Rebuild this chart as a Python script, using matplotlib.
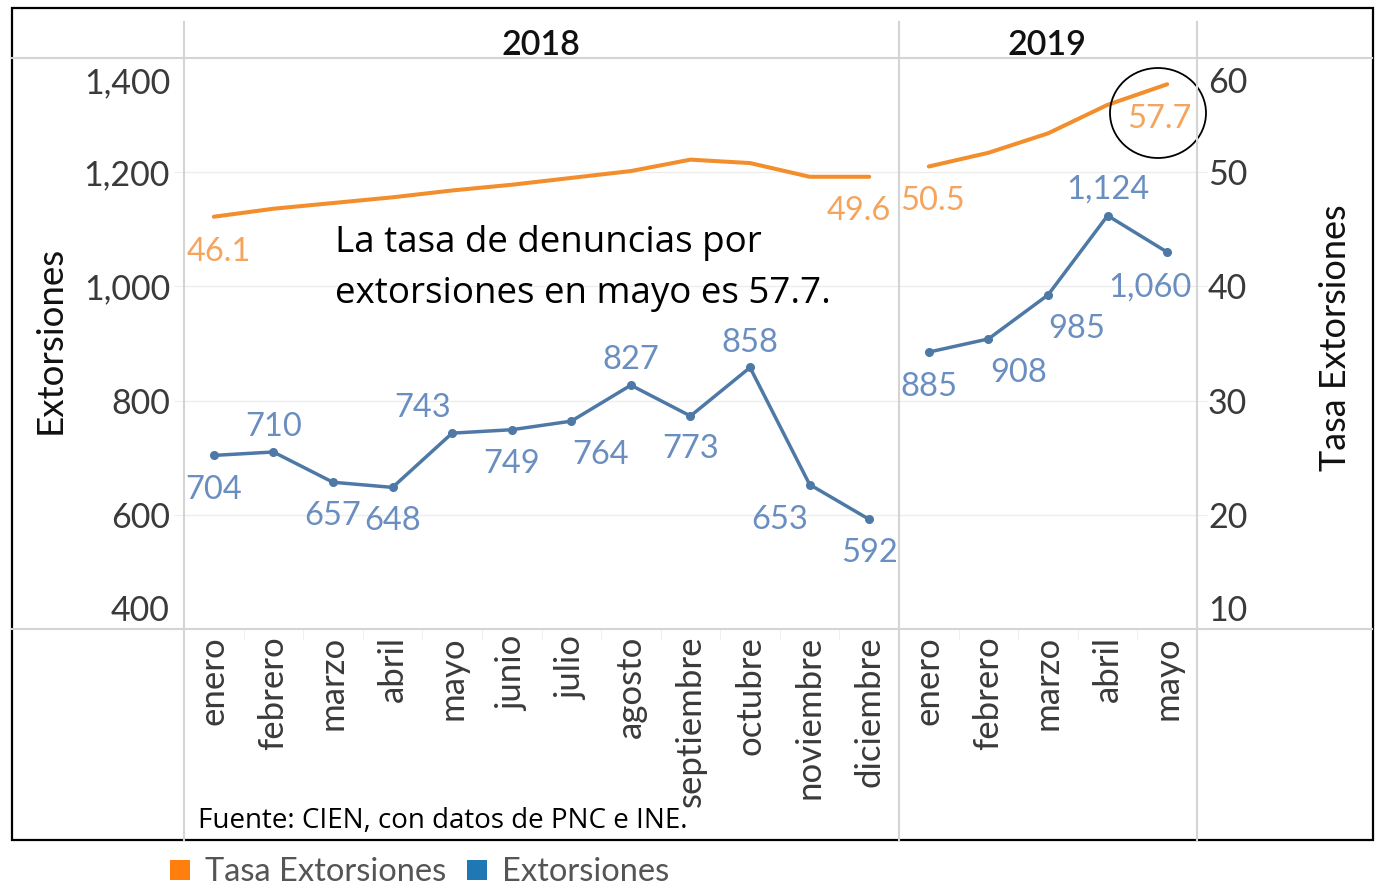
import matplotlib.pyplot as plt
import numpy as np
from matplotlib.patches import Rectangle, Ellipse
from matplotlib.lines import Line2D
from matplotlib.transforms import blended_transform_factory

plt.rcParams['font.family'] = ['Lato', 'DejaVu Sans']

# monthly extortion reports and rate per year
meses_2018 = ['enero', 'febrero', 'marzo', 'abril', 'mayo', 'junio', 'julio',
              'agosto', 'septiembre', 'octubre', 'noviembre', 'diciembre']
meses_2019 = ['enero', 'febrero', 'marzo', 'abril', 'mayo']

extorsiones_2018 = [704, 710, 657, 648, 743, 749, 764, 827, 773, 858, 653, 592]
extorsiones_2019 = [885, 908, 985, 1124, 1060]

tasa_2018 = [46.1, 46.8, 47.3, 47.8, 48.4, 48.9, 49.5, 50.1, 51.1, 50.8, 49.6, 49.6]
tasa_2019 = [50.5, 51.7, 53.4, 55.9, 57.7]

ext_ticks = [400, 600, 800, 1000, 1200, 1400]
tasa_ticks = [10, 20, 30, 40, 50, 60]

# label offsets in pixels (dx, dy) for the count labels
off_2018 = [(0, -35), (0, 25), (0, -34), (0, -34), (-30, 25), (0, -34),
            (29, -34), (0, 25), (0, -33), (0, 24), (-30, -35), (0, -34)]
off_2019 = [(0, -35), (30, -34), (29, -34), (0, 26), (-17, -35)]
# rate labels only on first and last month of each year
tasa_off_2018 = {0: (5, -35), 11: (-10, -34)}
tasa_off_2019 = {0: (4, -35), 4: (-8, -35)}

BLUE = '#4e79a7'
BLUE_LBL = '#6a8ec0'
ORANGE = '#f28e2b'
ORANGE_LBL = '#f5a45e'
GRID = '#ededed'
FRAME = '#d4d4d4'
TXT = '#3a3a3a'
LBL_SIZE = 23.5

W, H = 1377, 885


def fx(x):
    return x / W


def fy(y):
    return 1 - y / H


fig = plt.figure(figsize=(W / 100, H / 100), dpi=100)

ax_a = fig.add_axes([fx(184), fy(629), (899 - 184) / W, (629 - 58) / H])
ax_b = fig.add_axes([fx(899), fy(629), (1197 - 899) / W, (629 - 58) / H])

panes = [
    (ax_a, meses_2018, extorsiones_2018, tasa_2018, off_2018, tasa_off_2018),
    (ax_b, meses_2019, extorsiones_2019, tasa_2019, off_2019, tasa_off_2019),
]

twins = []
for ax, meses, ext, tasa, offs, toffs in panes:
    n = len(meses)
    x = np.arange(n)
    ax.set_xlim(-0.5, n - 0.5)
    ax.set_ylim(400, 1400)
    axt = ax.twinx()
    axt.set_ylim(10, 60)
    twins.append(axt)

    for v in ext_ticks[1:-1]:
        ax.axhline(v, color=GRID, lw=1, zorder=0)

    ax.plot(x, ext, color=BLUE, lw=2.5, marker='o', ms=5.5, zorder=3)
    axt.plot(x, tasa, color=ORANGE, lw=2.9, solid_capstyle='round', zorder=3)

    for i, v in enumerate(ext):
        dx, dy = offs[i]
        ax.annotate(f'{v:,}', xy=(i, v), xytext=(dx, dy), textcoords='offset pixels',
                    ha='center', va='center', fontsize=LBL_SIZE, color=BLUE_LBL)
    for i, (dx, dy) in toffs.items():
        axt.annotate(f'{tasa[i]:.1f}', xy=(i, tasa[i]), xytext=(dx, dy),
                     textcoords='offset pixels', ha='center', va='center',
                     fontsize=LBL_SIZE, color=ORANGE_LBL)

    for a in (ax, axt):
        for s in a.spines.values():
            s.set_visible(False)

    ax.set_xticks(x)
    ax.set_xticklabels(meses, rotation=90, fontsize=25, color=TXT)
    ax.set_xticks(np.arange(0.5, n - 1, 1), minor=True)
    ax.tick_params(axis='x', which='major', length=0, pad=5)
    ax.tick_params(axis='x', which='minor', length=8, color='#ececec', direction='out')
    ax.set_yticks([])
    axt.set_yticks([])

# left axis: ticks and labels for Extorsiones
ax_a.set_yticks(ext_ticks)
ax_a.set_yticklabels([])
ax_a.tick_params(axis='y', length=7, color=GRID)
tr = blended_transform_factory(ax_a.transAxes, ax_a.transData)
for v in ext_ticks:
    dy = -25 if v == ext_ticks[-1] else (18 if v == ext_ticks[0] else -3)
    ax_a.annotate(f'{v:,}', xy=(0, v), xycoords=tr, xytext=(-14, dy),
                  textcoords='offset pixels', ha='right', va='center',
                  fontsize=24.5, color=TXT)

# right axis: ticks and labels for Tasa Extorsiones
axr = twins[1]
axr.set_yticks(tasa_ticks)
axr.set_yticklabels([])
axr.tick_params(axis='y', length=7, color=GRID)
tr = blended_transform_factory(axr.transAxes, axr.transData)
for v in tasa_ticks:
    dy = -25 if v == tasa_ticks[-1] else (18 if v == tasa_ticks[0] else -3)
    axr.annotate(f'{v}', xy=(1, v), xycoords=tr, xytext=(11, dy),
                 textcoords='offset pixels', ha='left', va='center',
                 fontsize=24.5, color=TXT)

# table frame
for yy in (58, 629):
    fig.add_artist(Line2D([fx(12), fx(1372)], [fy(yy), fy(yy)], color=FRAME, lw=1.5))
for xx in (184, 899, 1197):
    fig.add_artist(Line2D([fx(xx), fx(xx)], [fy(22), fy(840)], color=FRAME, lw=1.5))
fig.add_artist(Rectangle((fx(12), fy(840)), (1373 - 12) / W, (840 - 8) / H,
                         transform=fig.transFigure, fill=False, ec='black', lw=1.6))

# year headers
fig.text(fx(541), fy(45), '2018', ha='center', va='center', fontsize=24.5,
         fontweight='semibold', color='#111111')
fig.text(fx(1047), fy(45), '2019', ha='center', va='center', fontsize=24.5,
         fontweight='semibold', color='#111111')

# axis titles
fig.text(fx(50), fy(340), 'Extorsiones', rotation=90, ha='center', va='center',
         fontsize=26.5, color='#111111')
fig.text(fx(1335), fy(338), 'Tasa Extorsiones', rotation=90, ha='center',
         va='center', fontsize=26, color='#111111')

# note and source
fig.text(fx(335), fy(252), 'La tasa de denuncias por', ha='left', va='baseline',
         fontsize=26.5, family=['Open Sans', 'DejaVu Sans'], color='black')
fig.text(fx(335), fy(303), 'extorsiones en mayo es 57.7.', ha='left', va='baseline',
         fontsize=26.5, family=['Open Sans', 'DejaVu Sans'], color='black')
fig.text(fx(198), fy(828), 'Fuente: CIEN, con datos de PNC e INE.', ha='left',
         va='baseline', fontsize=20, family=['Open Sans', 'DejaVu Sans'], color='black')

# circle around the last rate value
fig.add_artist(Ellipse((fx(1158), fy(113)), 96 / W, 90 / H, transform=fig.transFigure,
                       fill=False, ec='black', lw=1.3))

# legend
fig.add_artist(Rectangle((fx(170), fy(880)), 20 / W, 20 / H, transform=fig.transFigure,
                         fc='#ff7f0e', ec='none'))
fig.text(fx(205), fy(872), 'Tasa Extorsiones', ha='left', va='center', fontsize=23.5,
         color='#555555')
fig.add_artist(Rectangle((fx(467), fy(880)), 20 / W, 20 / H, transform=fig.transFigure,
                         fc='#1f77b4', ec='none'))
fig.text(fx(502), fy(872), 'Extorsiones', ha='left', va='center', fontsize=23.5,
         color='#555555')

fig.savefig('out.png', dpi=100)
